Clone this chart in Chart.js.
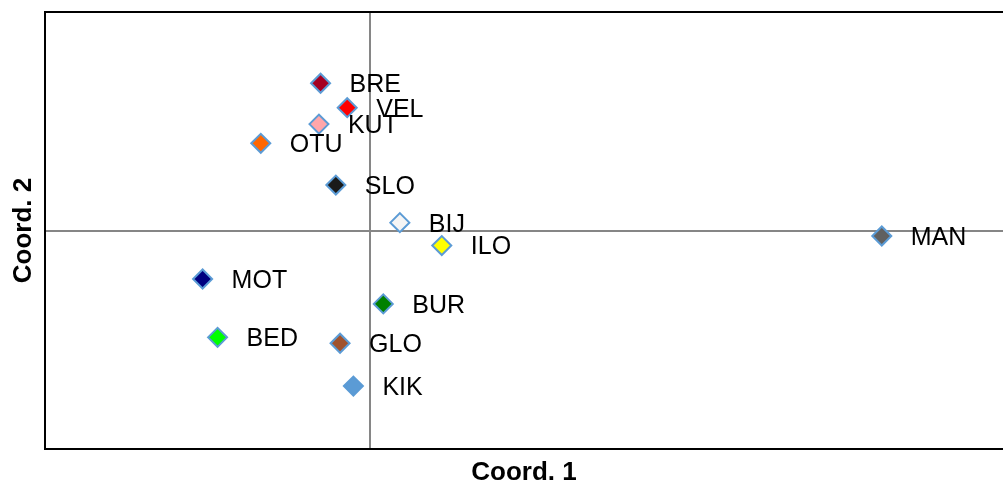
<!DOCTYPE html>
<html>
<head>
<meta charset="utf-8">
<script src="https://cdn.jsdelivr.net/npm/chart.js@4"></script>
<style>
  body { margin: 0; background: #fff; }
  #wrap { width: 1003px; height: 486px; }
</style>
</head>
<body>
<div id="wrap"><canvas id="graph"></canvas></div>
<script>
'use strict'

let sites = ['BRE', 'VEL', 'KUT', 'OTU', 'SLO', 'BIJ', 'ILO', 'MAN', 'MOT', 'BUR', 'BED', 'GLO', 'KIK'];
let coord1 = [-0.152, -0.070, -0.157, -0.336, -0.105, 0.092, 0.221, 1.575, -0.515, 0.041, -0.469, -0.092, -0.051];
let coord2 = [0.674, 0.562, 0.487, 0.399, 0.208, 0.036, -0.069, -0.025, -0.222, -0.336, -0.489, -0.516, -0.712];
let fills = ['#a50021', '#ff0000', '#ffa6aa', '#ff6600', '#1a1a1a', '#f5f5f5', '#ffff00', '#606060', '#000080', '#008000', '#00ff00', '#a0522d', '#5b9bd5'];

let points = [];
for (let i = 0; i < sites.length; i++) {
    points.push({x: coord1[i], y: coord2[i], name: sites[i]});
}

// frame on left, top and bottom (right side runs off the picture)
let frame = {
    id: 'frame',
    beforeDatasetsDraw(chart) {
        let a = chart.chartArea;
        let ctx = chart.ctx;
        ctx.save();
        ctx.strokeStyle = '#000';
        ctx.lineWidth = 2;
        ctx.beginPath();
        ctx.moveTo(a.right + 5, a.top);
        ctx.lineTo(a.left, a.top);
        ctx.lineTo(a.left, a.bottom);
        ctx.lineTo(a.right + 5, a.bottom);
        ctx.stroke();
        ctx.restore();
    }
};

let names = {
    id: 'names',
    afterDatasetsDraw(chart) {
        let ctx = chart.ctx;
        let meta = chart.getDatasetMeta(0);
        ctx.save();
        ctx.font = '25px "Liberation Sans", Arial, sans-serif';
        ctx.fillStyle = '#000';
        ctx.textBaseline = 'middle';
        meta.data.forEach((pt, i) => {
            ctx.fillText(sites[i], pt.x + 29, pt.y + 2);
        });
        ctx.restore();
    }
};

function zeroOnly(scale) {
    scale.ticks = [{value: 0}];
}

new Chart('graph', {
    type: 'scatter',
    data: {
        datasets: [{
            data: points,
            pointStyle: 'rectRot',
            pointRadius: 9.5,
            pointHoverRadius: 9.5,
            pointBorderWidth: 2,
            pointBorderColor: '#5b9bd5',
            pointBackgroundColor: fills
        }]
    },
    options: {
        responsive: true,
        maintainAspectRatio: false,
        animation: false,
        layout: { autoPadding: false, padding: { top: 12, right: 0 } },
        plugins: {
            legend: { display: false },
            tooltip: { enabled: false }
        },
        scales: {
            x: {
                min: -1,
                max: 1.948,
                afterBuildTicks: zeroOnly,
                afterFit(scale) { scale.height = 37; },
                ticks: { display: false },
                border: { display: false },
                grid: { color: '#868686', lineWidth: 2, drawTicks: false },
                title: {
                    display: true,
                    text: 'Coord. 1',
                    color: '#000',
                    font: { family: '"Liberation Sans", Arial, sans-serif', size: 26, weight: 'bold' },
                    padding: { top: 0, bottom: -2 }
                }
            },
            y: {
                min: -1,
                max: 1,
                afterBuildTicks: zeroOnly,
                afterFit(scale) { scale.width = 45; },
                ticks: { display: false },
                border: { display: false },
                grid: { color: '#868686', lineWidth: 2, drawTicks: false },
                title: {
                    display: true,
                    text: 'Coord. 2',
                    color: '#000',
                    font: { family: '"Liberation Sans", Arial, sans-serif', size: 26, weight: 'bold' },
                    padding: { top: 8, bottom: 0 }
                }
            }
        }
    },
    plugins: [frame, names]
});
</script>
</body>
</html>
